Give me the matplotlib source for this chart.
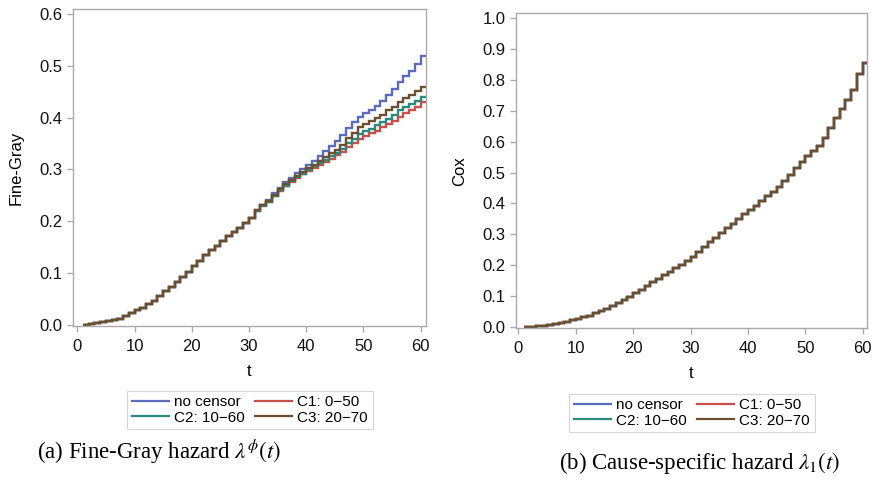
import matplotlib
matplotlib.use("Agg")
import matplotlib.pyplot as plt
from matplotlib.ticker import FormatStrFormatter, MultipleLocator

# step edges (event times) and values for each interval [t, t+1)
times = list(range(1, 62))

fg_no_censor = [0.000, 0.001, 0.003, 0.005, 0.007, 0.009, 0.012, 0.017, 0.023, 0.028,
                0.033, 0.040, 0.047, 0.056, 0.065, 0.074, 0.083, 0.093, 0.102, 0.113,
                0.123, 0.134, 0.144, 0.153, 0.161, 0.171, 0.180, 0.187, 0.196, 0.207,
                0.221, 0.232, 0.242, 0.254, 0.265, 0.275, 0.284, 0.293, 0.301, 0.309,
                0.316, 0.326, 0.336, 0.345, 0.354, 0.366, 0.380, 0.392, 0.402, 0.409,
                0.415, 0.422, 0.432, 0.444, 0.455, 0.468, 0.480, 0.490, 0.503, 0.518]
fg_c1 = [0.000, 0.001, 0.003, 0.005, 0.007, 0.009, 0.012, 0.017, 0.023, 0.028,
         0.033, 0.040, 0.047, 0.056, 0.065, 0.074, 0.083, 0.093, 0.102, 0.113,
         0.123, 0.134, 0.144, 0.153, 0.161, 0.171, 0.180, 0.187, 0.196, 0.207,
         0.220, 0.231, 0.238, 0.249, 0.259, 0.268, 0.276, 0.284, 0.291, 0.297,
         0.303, 0.309, 0.315, 0.321, 0.327, 0.333, 0.343, 0.351, 0.359, 0.365,
         0.370, 0.375, 0.381, 0.387, 0.394, 0.402, 0.409, 0.414, 0.421, 0.430]
fg_c2 = [0.000, 0.001, 0.003, 0.005, 0.007, 0.009, 0.012, 0.017, 0.023, 0.028,
         0.033, 0.040, 0.047, 0.056, 0.065, 0.074, 0.083, 0.093, 0.102, 0.113,
         0.123, 0.134, 0.144, 0.153, 0.161, 0.171, 0.180, 0.187, 0.196, 0.206,
         0.219, 0.230, 0.238, 0.249, 0.260, 0.269, 0.277, 0.285, 0.292, 0.299,
         0.306, 0.312, 0.319, 0.326, 0.332, 0.340, 0.351, 0.359, 0.368, 0.374,
         0.379, 0.385, 0.391, 0.398, 0.405, 0.414, 0.421, 0.426, 0.432, 0.440]
fg_c3 = [0.000, 0.001, 0.003, 0.005, 0.007, 0.009, 0.012, 0.017, 0.023, 0.028,
         0.033, 0.040, 0.047, 0.056, 0.065, 0.074, 0.083, 0.093, 0.102, 0.113,
         0.123, 0.134, 0.144, 0.153, 0.161, 0.171, 0.180, 0.187, 0.196, 0.207,
         0.221, 0.232, 0.240, 0.251, 0.262, 0.271, 0.279, 0.287, 0.295, 0.302,
         0.309, 0.316, 0.324, 0.331, 0.338, 0.347, 0.360, 0.370, 0.381, 0.388,
         0.393, 0.399, 0.406, 0.414, 0.421, 0.431, 0.438, 0.444, 0.451, 0.460]

cox_no_censor = [0.000, 0.002, 0.003, 0.005, 0.007, 0.010, 0.013, 0.018, 0.023, 0.028,
                 0.032, 0.038, 0.045, 0.052, 0.060, 0.069, 0.078, 0.088, 0.099, 0.110,
                 0.121, 0.133, 0.145, 0.157, 0.168, 0.180, 0.191, 0.202, 0.213, 0.228,
                 0.244, 0.260, 0.275, 0.290, 0.305, 0.320, 0.335, 0.350, 0.365, 0.378,
                 0.391, 0.407, 0.423, 0.438, 0.454, 0.472, 0.493, 0.513, 0.533, 0.552,
                 0.568, 0.585, 0.612, 0.645, 0.675, 0.705, 0.733, 0.765, 0.818, 0.853]
# the censoring scenarios coincide with the uncensored curve for the cause-specific hazard
cox_c1 = list(cox_no_censor)
cox_c2 = list(cox_no_censor)
cox_c3 = list(cox_no_censor)

labels = ["no censor", "C1: 0\u221250", "C2: 10\u221260", "C3: 20\u221270"]
colors = ["#5B6CBF", "#C94F4A", "#2A8A7C", "#6B4F2E"]

plt.rcParams["font.family"] = ["Liberation Sans", "DejaVu Sans"]
plt.rcParams["mathtext.fontset"] = "stix"

fig = plt.figure(figsize=(8.73, 4.82), dpi=100)
ax1 = fig.add_axes([0.0833, 0.3237, 0.4043, 0.657])
ax2 = fig.add_axes([0.5911, 0.3189, 0.4017, 0.6535])

spine_col = "#AAAAAA"


def style_axes(ax, ylabel, ylim, ymajor):
    ax.set_xlim(-0.8, 60.9)
    ax.set_ylim(*ylim)
    ax.xaxis.set_major_locator(MultipleLocator(10))
    ax.yaxis.set_major_locator(MultipleLocator(ymajor))
    ax.yaxis.set_major_formatter(FormatStrFormatter("%.1f"))
    for s in ax.spines.values():
        s.set_color(spine_col)
        s.set_linewidth(1.0)
    ax.tick_params(axis="both", direction="out", color=spine_col, labelsize=12,
                   labelcolor="#111111", length=4.5, width=1.0)
    ax.tick_params(axis="x", pad=5)
    ax.tick_params(axis="y", pad=3)
    ax.set_xlabel("t", fontsize=12, labelpad=7)
    ax.set_ylabel(ylabel, fontsize=12, labelpad=11)


for vals, lab, col in zip([fg_no_censor, fg_c1, fg_c2, fg_c3], labels, colors):
    ax1.stairs(vals, times, baseline=None, color=col, linewidth=1.7, label=lab)
style_axes(ax1, "Fine-Gray", (-0.002, 0.609), 0.1)

for vals, lab, col in zip([cox_no_censor, cox_c1, cox_c2, cox_c3], labels, colors):
    ax2.stairs(vals, times, baseline=None, color=col, linewidth=1.7, label=lab)
style_axes(ax2, "Cox", (-0.003, 1.014), 0.1)
ax2.set_xlim(-0.4, 60.7)


def add_legend(ax, cx, cy):
    h, l = ax.get_legend_handles_labels()
    # column-wise fill: row1 = no censor, C1 ; row2 = C2, C3
    order = [0, 2, 1, 3]
    leg = fig.legend([h[i] for i in order], [l[i] for i in order], loc="center",
                     bbox_to_anchor=(cx, cy), ncol=2, fontsize=11, frameon=True,
                     fancybox=False, handlelength=2.4, handletextpad=0.35,
                     columnspacing=0.7, labelspacing=0.1, borderpad=0.3)
    leg.get_frame().set_edgecolor("#CCCCCC")
    leg.get_frame().set_linewidth(0.8)
    for line in leg.get_lines():
        line.set_linewidth(1.6)


add_legend(ax1, 250 / 873, 1 - 410 / 482)
add_legend(ax2, 692 / 873, 1 - 413 / 482)

fig.text(37 / 873, 1 - 452 / 482, r"(a) Fine-Gray hazard $\lambda^{\phi}(t)$",
         family="Liberation Serif", fontsize=16.5, ha="left", va="center")
fig.text(559 / 873, 1 - 463 / 482, r"(b) Cause-specific hazard $\lambda_1(t)$",
         family="Liberation Serif", fontsize=16.5, ha="left", va="center")

fig.savefig("out.png", dpi=100)
